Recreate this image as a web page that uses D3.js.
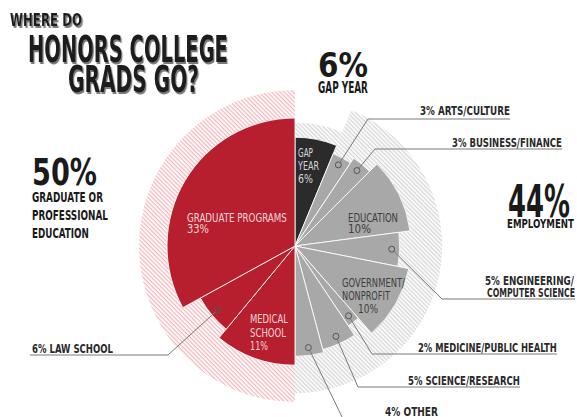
<!DOCTYPE html>
<html><head><meta charset="utf-8">
<script src="https://cdn.jsdelivr.net/npm/d3@7"></script>
<style>html,body{margin:0;padding:0;background:#fff;} svg{display:block;}</style>
</head><body>
<svg id="chart" width="577" height="417"></svg>
<script>
// ---------- DATA ----------
const rightCategories = ["Gap Year","Arts/Culture","Business/Finance","Education","Engineering/Computer Science","Government/Nonprofit","Medicine/Public Health","Science/Research","Other"];
const rightValues = [6,3,3,10,5,10,2,5,4];
const rightReach  = [68,62.5,66,72.5,65.5,72.5,60,67,69];   // radial extent (0-100 units)
const leftCategories = ["Medical School","Law School","Graduate Programs"];
const leftValues = [11,6,33];
const leftReach  = [74.5,67.5,80];
const groupNames  = ["Gap Year","Employment","Graduate or Professional Education"];
const groupValues = [6,44,50];
const groupReach  = [77,92,97.5];

// ---------- SETUP ----------
const svg = d3.select("#chart");
const cx = 295, cy = 246;
const rScale = d3.scaleLinear().domain([0,100]).range([0,160]);
const FONT = "'Liberation Sans Narrow','DejaVu Sans Condensed','Roboto Condensed',Roboto,'Liberation Sans',sans-serif";
const colors = {gap:"#2b2b2b", emp:"#a8a8a8", grad:"#b81f2e"};
const groupOf = name => name === "Gap Year" ? "gap" : "emp";

const defs = svg.append("defs");
function hatch(id, color){
  const p = defs.append("pattern").attr("id", id).attr("patternUnits","userSpaceOnUse")
    .attr("width",3).attr("height",3).attr("patternTransform","rotate(45)");
  p.append("rect").attr("width",3).attr("height",3).attr("fill","#fff");
  p.append("line").attr("x1",0).attr("y1",0.75).attr("x2",3).attr("y2",0.75)
    .attr("stroke",color).attr("stroke-width",1);
}
hatch("hatchRed","#f0a3aa");
hatch("hatchGray","#c9c9c9");
const f = defs.append("filter").attr("id","drop").attr("x","-10%").attr("y","-10%").attr("width","130%").attr("height","140%");
f.append("feDropShadow").attr("dx",2).attr("dy",2).attr("stdDeviation",0.3)
  .attr("flood-color","#7a7a7a").attr("flood-opacity",1);

const g = svg.append("g").attr("transform",`translate(${cx},${cy})`);

const rightData = rightCategories.map((c,i)=>({name:c, value:rightValues[i], reach:rightReach[i], group:groupOf(c)}));
const leftData  = leftCategories.map((c,i)=>({name:c, value:leftValues[i], reach:leftReach[i], group:"grad"}));
const pieR = d3.pie().sort(null).value(d=>d.value).startAngle(0).endAngle(Math.PI)(rightData);
const pieL = d3.pie().sort(null).value(d=>d.value).startAngle(Math.PI).endAngle(2*Math.PI)(leftData);
const slices = pieR.concat(pieL);

// group background hatches
const groupArcs = [
  {start:pieR[0].startAngle, end:pieR[0].endAngle, reach:groupReach[0], fill:"url(#hatchGray)"},
  {start:pieR[1].startAngle, end:pieR[pieR.length-1].endAngle, reach:groupReach[1], fill:"url(#hatchGray)"},
  {start:pieL[0].startAngle, end:pieL[pieL.length-1].endAngle, reach:groupReach[2], fill:"url(#hatchRed)"}
];
const arcGen = d3.arc();
g.selectAll("path.bg").data(groupArcs).join("path").attr("class","bg")
  .attr("d", d=>arcGen({innerRadius:0, outerRadius:rScale(d.reach), startAngle:d.start, endAngle:d.end}))
  .attr("fill", d=>d.fill);

// wedges
g.selectAll("path.wedge").data(slices).join("path").attr("class","wedge")
  .attr("d", d=>arcGen({innerRadius:0, outerRadius:rScale(d.data.reach), startAngle:d.startAngle, endAngle:d.endAngle}))
  .attr("fill", d=>colors[d.data.group])
  .attr("stroke","#fff").attr("stroke-width",1).attr("stroke-opacity",0.85)
  .attr("stroke-linejoin","round");

// ---------- TEXT HELPER (condensed by horizontal scaling to a target width) ----------
function txt(x,y,s,size,w,color,opts={}){
  const t = svg.append("text").attr("x",0).attr("y",0).text(s)
    .attr("font-family",FONT).attr("font-weight",opts.weight||700)
    .attr("font-size",size).attr("fill",color);
  if (opts.filter) t.attr("filter",opts.filter);
  const nat = t.node().getComputedTextLength();
  const sx = w ? w/nat : 1;
  t.attr("transform",`translate(${x},${y}) scale(${sx},1)`);
  return t;
}

// ---------- TITLE ----------
txt(10,26,"WHERE DO",18,72,"#1c1c1c",{filter:"url(#drop)"});
txt(28,62,"HONORS COLLEGE",37,200,"#1c1c1c",{filter:"url(#drop)"});
txt(68,92,"GRADS GO?",37,131,"#1c1c1c",{filter:"url(#drop)"});

// ---------- GROUP SUMMARIES ----------
txt(318,77,`${groupValues[0]}%`,33,50,"#1a1a1a");
txt(318,93,groupNames[0].toUpperCase(),15,50,"#1a1a1a");
txt(508,217,`${groupValues[1]}%`,44,62,"#1a1a1a");
txt(507,228,groupNames[1].toUpperCase(),13,67,"#1a1a1a");
txt(32,185,`${groupValues[2]}%`,37,65,"#1a1a1a");
txt(32,202,"GRADUATE OR",14,71,"#1a1a1a");
txt(32,220,"PROFESSIONAL",14,76,"#1a1a1a");
txt(32,238,"EDUCATION",14,57,"#1a1a1a");

// ---------- INSIDE LABELS ----------
const find = n => slices.find(s=>s.data.name===n).data;
const inside = [
  {lines:[["GAP",298,157,15],["YEAR",298,170,21],[`${find("Gap Year").value}%`,298,183,15]], color:"#d6d6d6"},
  {lines:[["GRADUATE PROGRAMS",187,222,100],[`${find("Graduate Programs").value}%`,187,233,22]], color:"#f5d6d9"},
  {lines:[["MEDICAL",250,323,38],["SCHOOL",250,337,36],[`${find("Medical School").value}%`,250,350,18]], color:"#f5d6d9"},
  {lines:[["EDUCATION",348,222,50],[`${find("Education").value}%`,348,233,23]], color:"#3d3d3d"},
  {lines:[["GOVERNMENT/",342,287,63],["NONPROFIT",342,300,48],[`${find("Government/Nonprofit").value}%`,358,313,20]], color:"#3d3d3d"}
];
inside.forEach(l=>l.lines.forEach(([s,x,y,w])=>txt(x,y,s,13,w,l.color,{weight:400})));

// ---------- LEADER LABELS ----------
const leaders = [
  {name:"Arts/Culture", text:["3%  ARTS/CULTURE"], tx:[420], ty:[115], tw:[90], elbow:[368,119], endX:510},
  {name:"Business/Finance", text:["3%  BUSINESS/FINANCE"], tx:[452], ty:[147], tw:[110], elbow:[375,149], endX:562},
  {name:"Engineering/Computer Science", text:["5%  ENGINEERING/","COMPUTER SCIENCE"], tx:[485,487], ty:[285,297], tw:[89,88], elbow:[442,299], endX:575},
  {name:"Medicine/Public Health", text:["2%  MEDICINE/PUBLIC HEALTH"], tx:[418], ty:[352], tw:[139], elbow:[372,354], endX:557},
  {name:"Science/Research", text:["5%  SCIENCE/RESEARCH"], tx:[408], ty:[385], tw:[112], elbow:[358,387], endX:520},
  {name:"Other", text:["4%  OTHER"], tx:[385], ty:[416], tw:[53], elbow:[344,421], endX:440},
  {name:"Law School", text:["6%  LAW SCHOOL"], tx:[32], ty:[353], tw:[81], elbow:[168,355], endX:30}
];
leaders.forEach(L=>{
  const s = slices.find(d=>d.data.name===L.name);
  const a = (s.startAngle+s.endAngle)/2;
  const rr = rScale(s.data.reach) - 8;
  const mx = cx + rr*Math.sin(a), my = cy - rr*Math.cos(a);
  const dx = mx - L.elbow[0], dy = my - L.elbow[1], len = Math.hypot(dx,dy);
  const ex = mx - dx/len*3, ey = my - dy/len*3;
  svg.append("polyline")
    .attr("points",`${L.endX},${L.elbow[1]} ${L.elbow[0]},${L.elbow[1]} ${ex},${ey}`)
    .attr("fill","none").attr("stroke","#7a7a7a").attr("stroke-width",1);
  svg.append("circle").attr("cx",mx).attr("cy",my).attr("r",3)
    .attr("fill","none").attr("stroke","#555").attr("stroke-width",1);
  L.text.forEach((t,i)=>txt(L.tx[i],L.ty[i],t,13,L.tw[i],"#2a2a2a",{weight:700}));
});
</script>
</body></html>
